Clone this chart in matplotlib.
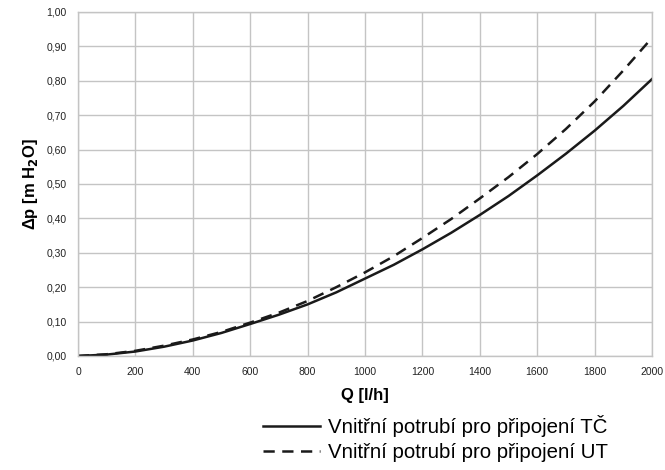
import numpy as np
import matplotlib
matplotlib.use('Agg')
from matplotlib import pyplot as plt

plt.rcParams['font.family'] = ['Liberation Sans', 'DejaVu Sans']

# Flow rate in l/h
Q = [0, 100, 200, 300, 400, 500, 600, 700, 800, 900, 1000,
     1100, 1200, 1300, 1400, 1500, 1600, 1700, 1800, 1900, 2000]
# Pressure drop in m H2O
dp_TC = [0, 0.004, 0.013, 0.027, 0.045, 0.067, 0.093, 0.120, 0.150, 0.185, 0.225,
         0.265, 0.310, 0.358, 0.410, 0.465, 0.525, 0.588, 0.655, 0.727, 0.805]
dp_UT = [0, 0.005, 0.015, 0.030, 0.048, 0.070, 0.097, 0.126, 0.160, 0.200, 0.243,
         0.290, 0.343, 0.398, 0.458, 0.520, 0.587, 0.660, 0.740, 0.830, 0.925]

x_ticks = list(range(0, 2001, 200))
y_ticks = [i / 10 for i in range(11)]
y_tick_labels = [f'{v:.2f}'.replace('.', ',') for v in y_ticks]

fig = plt.figure(figsize=(6.65, 4.7), dpi=100)
ax = fig.add_axes([0.1173, 0.2426, 0.8632, 0.7319])

ax.plot(Q, dp_TC, c='#1a1a1a', lw=1.8, ls='-', label='Vnitřní potrubí pro připojení TČ')
ax.plot(Q, dp_UT, c='#1a1a1a', lw=1.8, ls=(0, (4.5, 3)), label='Vnitřní potrubí pro připojení UT')

ax.set_xlim(0, 2000)
ax.set_ylim(0, 1.0)
ax.set_xticks(x_ticks)
ax.set_yticks(y_ticks)
ax.set_yticklabels(y_tick_labels)
ax.tick_params(length=0, labelsize=7.5, colors='#222222', pad=8)
ax.grid(True, color='#c4c4c4', lw=1.0)
ax.set_axisbelow(True)
for s in ax.spines.values():
    s.set_color('#c4c4c4')
    s.set_linewidth(1.0)

ax.set_xlabel('Q [l/h]', fontsize=12, fontweight='bold', labelpad=8)
ax.set_ylabel(r'Δp [m H$_{\mathbf{2}}$O]', fontsize=12, fontweight='bold', labelpad=5)

fig.legend(loc='upper left', bbox_to_anchor=(0.395, 0.116), frameon=False,
           fontsize=14.7, handlelength=2.8, handletextpad=0.4, labelspacing=0.28,
           borderaxespad=0, borderpad=0)

fig.savefig('out.png', dpi=100)
